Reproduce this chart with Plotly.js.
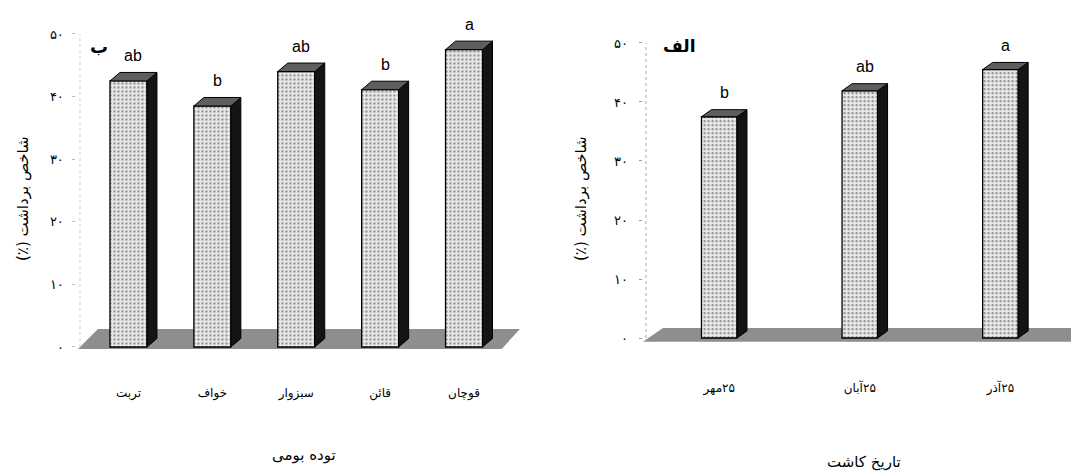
<!DOCTYPE html>
<html>
<head>
<meta charset="utf-8">
<script src="https://cdn.plot.ly/plotly-3.0.1.min.js"></script>
<style>html,body{margin:0;padding:0;background:#fff;}</style>
</head>
<body>
<div id="chart" style="width:1071px;height:471px;"></div>
<script>
// ---- Data ----
const RLM = '\u200F';
const catsB = ['تربت', 'خواف', 'سبزوار', 'قائن', 'قوچان'];
const valsB = [42.5, 38.5, 44.0, 41.1, 47.5];
const lettersB = ['ab', 'b', 'ab', 'b', 'a'];

const catsA = ['۲۵مهر', '۲۵آبان', '۲۵آذر'];
const valsA = [37.5, 41.9, 45.5];
const lettersA = ['b', 'ab', 'a'];

const yTickVals = [0, 10, 20, 30, 40, 50];
const yTickText = ['۰', '۱۰', '۲۰', '۳۰', '۴۰', '۵۰'];

const yTitle = 'شاخص برداشت (٪)';
const xTitleB = 'توده بومی';
const xTitleA = 'تاریخ کاشت';
const panelB = 'ب';
const panelA = 'الف';

// ---- Styling helpers ----
const FA = 'DejaVu Sans, sans-serif';
const LAT = 'Liberation Sans, Arial, sans-serif';
const rtl = s => RLM + s + RLM;

function boxTraces(vals, w, dx, dy, xa, ya) {
  const idx = vals.map((_, i) => i);
  const front = {
    type: 'bar', x: idx, y: vals, width: w, xaxis: xa, yaxis: ya,
    marker: {
      color: '#e9e9e9',
      line: {color: '#000', width: 1.3},
      pattern: {shape: '.', fgcolor: '#8f8f8f', bgcolor: '#ededed', size: 4, solidity: 0.3, fillmode: 'replace'}
    },
    hoverinfo: 'skip'
  };
  const sx = [], sy = [], tx = [], ty = [];
  vals.forEach((v, i) => {
    const r = i + w / 2, l = i - w / 2;
    sx.push(r, r + dx, r + dx, r, r, null);
    sy.push(0, dy, v + dy, v, 0, null);
    tx.push(l, l + dx, r + dx, r, l, null);
    ty.push(v, v + dy, v + dy, v, v, null);
  });
  const side = {
    type: 'scatter', mode: 'lines', x: sx, y: sy, fill: 'toself', fillcolor: '#141414',
    line: {color: '#000', width: 1}, xaxis: xa, yaxis: ya, hoverinfo: 'skip'
  };
  const top = {
    type: 'scatter', mode: 'lines', x: tx, y: ty, fill: 'toself', fillcolor: '#5e5e5e',
    line: {color: '#000', width: 1}, xaxis: xa, yaxis: ya, hoverinfo: 'skip'
  };
  return [front, side, top];
}

// geometry (styling)
const wB = 0.441, dxB = 0.119, dyB = 1.36;
const wA = 0.2525, dxA = 0.0711, dyA = 1.2;

const traces = [
  ...boxTraces(valsB, wB, dxB, dyB, 'x', 'y'),
  ...boxTraces(valsA, wA, dxA, dyA, 'x2', 'y2')
];

const letterAnn = (vals, letters, dx, dy, xr, yr) => vals.map((v, i) => ({
  x: i + dx / 2, y: v + dy, xref: xr, yref: yr, text: letters[i], showarrow: false,
  yshift: 17, xanchor: 'center', yanchor: 'middle', font: {family: LAT, size: 16, color: '#000'}
}));

const paperAnn = (px, py, text, size, extra) => Object.assign({
  x: px / 1071, y: 1 - py / 471, xref: 'paper', yref: 'paper', text: text,
  showarrow: false, xanchor: 'center', yanchor: 'middle',
  font: {family: FA, size: size, color: '#000'}
}, extra || {});

const floorPath = (pts) => 'M ' + pts.map(p => p[0] + ',' + p[1]).join(' L ') + ' Z';

const layout = {
  width: 1071, height: 471,
  margin: {l: 0, r: 0, t: 0, b: 0},
  paper_bgcolor: '#fff', plot_bgcolor: 'rgba(0,0,0,0)',
  showlegend: false,
  xaxis: {
    domain: [0.0714, 0.4881], range: [-0.62, 4.70], anchor: 'y',
    tickvals: catsB.map((_, i) => i), ticktext: catsB,
    showgrid: false, zeroline: false, showline: false, ticks: '',
    tickfont: {family: FA, size: 12, color: '#000'}, ticklabelstandoff: 24
  },
  yaxis: {
    domain: [0.2367, 0.9544], range: [-2, 52], anchor: 'x',
    tickvals: yTickVals, ticktext: yTickText,
    showgrid: false, zeroline: false, showline: false,
    ticks: 'outside', ticklen: 3, tickcolor: '#bbb',
    tickfont: {family: FA, size: 13, color: '#000'}, ticklabelstandoff: 6
  },
  xaxis2: {
    domain: [0.6, 1.0], range: [-0.545, 2.502], anchor: 'y2',
    tickvals: catsA.map((_, i) => i), ticktext: catsA.map(rtl),
    showgrid: false, zeroline: false, showline: false, ticks: '',
    tickfont: {family: FA, size: 12, color: '#000'}, ticklabelstandoff: 29
  },
  yaxis2: {
    domain: [0.2573, 0.9338], range: [-2, 52], anchor: 'x2',
    tickvals: yTickVals, ticktext: yTickText,
    showgrid: false, zeroline: false, showline: false,
    ticks: 'outside', ticklen: 3, tickcolor: '#999',
    tickfont: {family: FA, size: 13, color: '#000'}, ticklabelstandoff: 8
  },
  shapes: [
    {type: 'path', xref: 'x', yref: 'y', layer: 'below',
     path: floorPath([[-0.602, -0.32], [-0.363, 2.88], [4.666, 2.88], [4.45, -0.32]]),
     fillcolor: '#8e8e8e', line: {width: 0}},
    {type: 'path', xref: 'x2', yref: 'y2', layer: 'below',
     path: floorPath([[-0.542, -0.63], [-0.400, 1.69], [2.7, 1.69], [2.7, -0.63]]),
     fillcolor: '#8e8e8e', line: {width: 0}},
    {type: 'line', xref: 'x', yref: 'y', layer: 'below', x0: -0.578, x1: -0.578, y0: 0, y1: 50,
     line: {color: '#d0d0d0', width: 1, dash: 'dot'}},
    {type: 'line', xref: 'x2', yref: 'y2', layer: 'below', x0: -0.521, x1: -0.521, y0: 0, y1: 50,
     line: {color: '#aaa', width: 1, dash: 'dot'}}
  ],
  annotations: [
    ...letterAnn(valsB, lettersB, dxB, dyB, 'x', 'y'),
    ...letterAnn(valsA, lettersA, dxA, dyA, 'x2', 'y2'),
    paperAnn(99, 47, '<b>' + panelB + '</b>', 18),
    paperAnn(679, 46, '<b>' + panelA + '</b>', 17),
    paperAnn(304, 455, xTitleB, 15),
    paperAnn(864, 462, xTitleA, 15),
    paperAnn(23, 199, rtl(yTitle), 15, {textangle: -90}),
    paperAnn(581, 199, rtl(yTitle), 15, {textangle: -90})
  ]
};

Plotly.newPlot('chart', traces, layout, {staticPlot: true, displayModeBar: false});
</script>
</body>
</html>
